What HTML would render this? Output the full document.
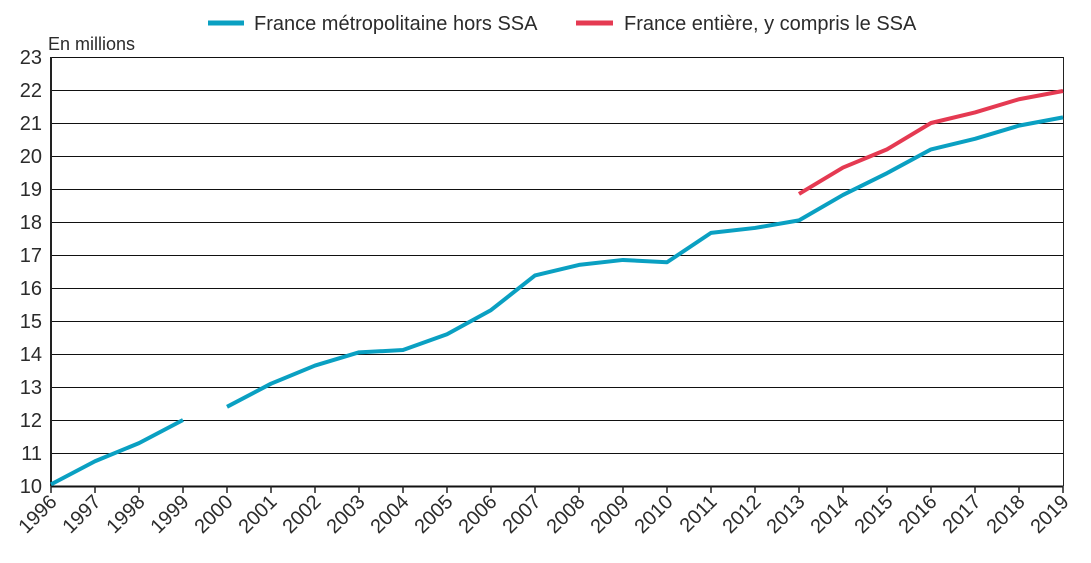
<!DOCTYPE html>
<html><head><meta charset="utf-8"><style>
body{margin:0;background:#fff;font-family:"Liberation Sans",sans-serif}
svg text{font-family:"Liberation Sans",sans-serif;fill:#2b2b2b}
</style></head><body>
<svg id="c" width="1091" height="558"></svg>
<script>
const years=[1996,1997,1998,1999,2000,2001,2002,2003,2004,2005,2006,2007,2008,2009,2010,2011,2012,2013,2014,2015,2016,2017,2018,2019];
const blueValues=[10.05,10.75,11.3,12.0,12.4,13.1,13.65,14.05,14.12,14.6,15.33,16.38,16.7,16.85,16.78,17.67,17.82,18.05,18.82,19.48,20.2,20.52,20.92,21.17];
const redValues=[null,null,null,null,null,null,null,null,null,null,null,null,null,null,null,null,null,18.85,19.65,20.2,21.0,21.32,21.72,21.97];
const yTicks=[10,11,12,13,14,15,16,17,18,19,20,21,22,23];
</script>
<script>
const NS="http://www.w3.org/2000/svg";
const svg=document.getElementById('c');
const x0=51,x1=1063,y0=486,y1=57;
const xs=i=>x0+(x1-x0)*i/(years.length-1);
const ys=v=>y0-(v-10)/(23-10)*(y0-y1);
function mk(t,a,p){const e=document.createElementNS(NS,t);for(const k in a)e.setAttribute(k,a[k]);(p||svg).appendChild(e);return e;}
yTicks.forEach(v=>{
 const yy=Math.round(ys(v))+0.5;
 const l=mk('line',{x1:x0,x2:x1,y1:yy,y2:yy,stroke:'#111','stroke-width':v===10?2:1,'shape-rendering':'crispEdges'});
 
 
 const t=mk('text',{x:42,y:ys(v)+7,'text-anchor':'end','font-size':20});
 t.textContent=v;
 
 
});
mk('line',{x1:x0,x2:x0,y1:y1,y2:y0,stroke:'#222','stroke-width':2,'shape-rendering':'crispEdges'});
mk('line',{x1:x1+0.5,x2:x1+0.5,y1:y1,y2:y0,stroke:'#222','stroke-width':1,'shape-rendering':'crispEdges'});
years.forEach((y,i)=>{
 mk('line',{x1:xs(i),x2:xs(i),y1:y0,y2:y0+7,stroke:'#222','stroke-width':1.5});
 const t=mk('text',{x:0,y:0,'text-anchor':'end','font-size':20,transform:`translate(${xs(i)+7},${y0+17}) rotate(-45)`});
 t.textContent=y;
 
 
});
function series(vals,color,name,breakAfter){
 let d='',pen=false;
 vals.forEach((v,i)=>{
  if(v==null){pen=false;return;}
  d+=(pen?'L':'M')+xs(i)+','+ys(v);
  pen=!(breakAfter!==undefined&&i===breakAfter);
 });
 const p=mk('path',{d:d,fill:'none',stroke:color,'stroke-width':4,'stroke-linejoin':'round'});
 
 
}
series(blueValues,'#0aa0c2','series-france-metropolitaine',3);
series(redValues,'#e53a52','series-france-entiere');
const t=mk('text',{x:48,y:50,'font-size':18});t.textContent='En millions';

const g=mk('g',{});
mk('line',{x1:208,x2:244,y1:23,y2:23,stroke:'#0aa0c2','stroke-width':5},g);
let a=mk('text',{x:254,y:30,'font-size':20},g);a.textContent='France métropolitaine hors SSA';

mk('line',{x1:576,x2:613,y1:23,y2:23,stroke:'#e53a52','stroke-width':5},g);
let b=mk('text',{x:624,y:30,'font-size':20},g);b.textContent='France entière, y compris le SSA';

</script>
</body></html>
